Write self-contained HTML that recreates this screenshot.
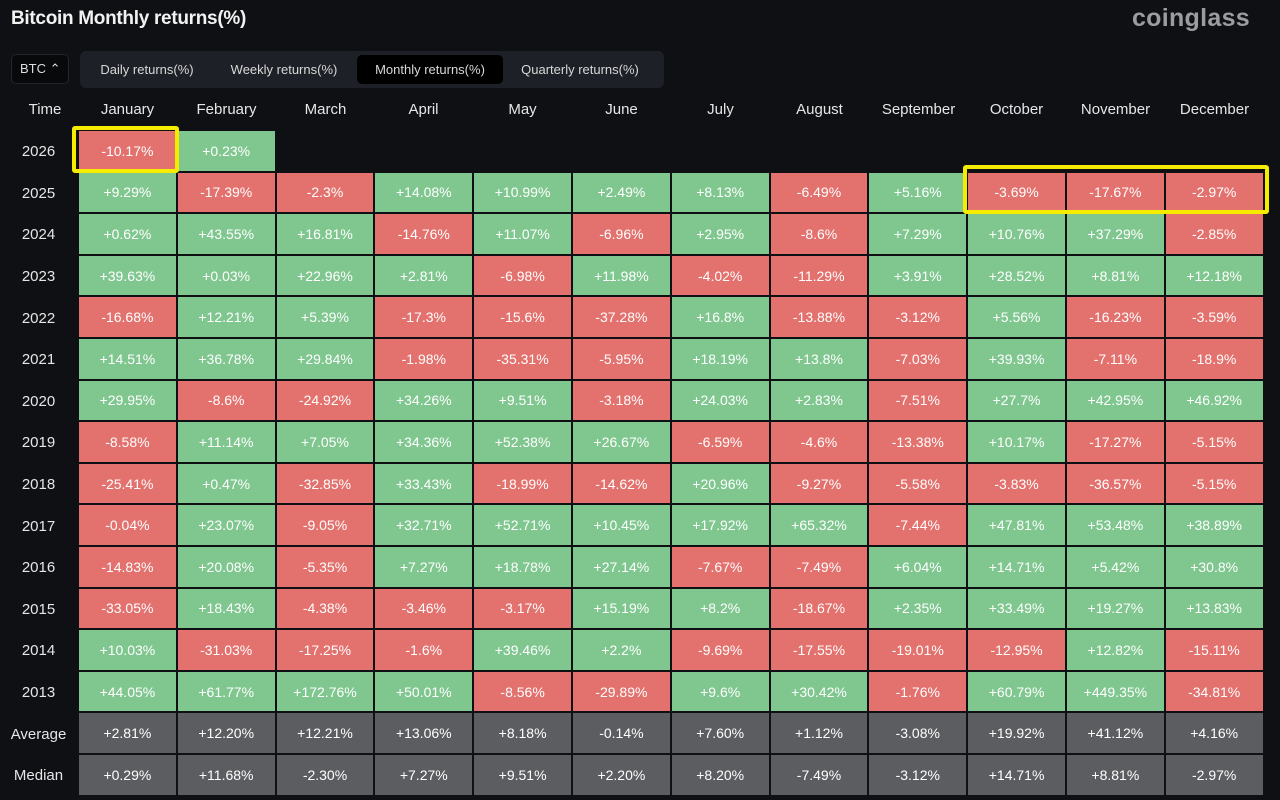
<!DOCTYPE html>
<html><head><meta charset="utf-8"><style>
*{margin:0;padding:0;box-sizing:border-box}
body{width:1280px;height:800px;background:#0e1014;font-family:"Liberation Sans",sans-serif;color:#e8e8e8;position:relative;overflow:hidden}
.t{position:absolute;left:11px;top:8px;font-size:19px;font-weight:bold;color:#f2f2f2;letter-spacing:-0.3px}
.logo{position:absolute;right:30px;top:4px;font-size:25px;font-weight:bold;color:#9a9ca0;letter-spacing:0.3px}
.btc{position:absolute;left:11px;top:54px;width:58px;height:30px;border:1px solid #23262c;border-radius:5px;background:#08090b;font-size:13px;line-height:28px;padding-left:8px;color:#ddd}
.tabs{position:absolute;left:80px;top:51px;width:584px;height:37px;background:#1d2026;border-radius:6px}
.tab{position:absolute;top:4px;height:29px;line-height:29px;font-size:13px;color:#d8d8d8;text-align:center}
.act{background:#000;border-radius:5px}
.hd{position:absolute;top:101px;font-size:15px;color:#e6e6e6;text-align:center;width:97px}
.grid{position:absolute;left:0;top:131px;display:grid;grid-template-columns:77px repeat(12,96.8px);grid-auto-rows:39.6px;gap:2px}
.grid div{display:flex;align-items:center;justify-content:center;font-size:14px;color:#fff}
.grid .y{color:#e6e6e6;font-size:15px;padding-top:2px}
.g{background:#7fc78f}.r{background:#e3716d}.a{background:#5c5d60}
.box{position:absolute;border:4px solid #f5ec00;border-radius:3px}
</style></head><body>
<div class="t">Bitcoin Monthly returns(%)</div>
<div class="logo">coinglass</div>
<div class="btc">BTC ⌃</div>
<div class="tabs">
<div class="tab" style="left:5px;width:124px">Daily returns(%)</div>
<div class="tab" style="left:136px;width:136px">Weekly returns(%)</div>
<div class="tab act" style="left:277px;width:146px">Monthly returns(%)</div>
<div class="tab" style="left:425px;width:150px">Quarterly returns(%)</div>
</div>
<div class="hd" style="left:5px;width:80px">Time</div>
<div class="hd" style="left:79px">January</div><div class="hd" style="left:178px">February</div><div class="hd" style="left:277px">March</div><div class="hd" style="left:375px">April</div><div class="hd" style="left:474px">May</div><div class="hd" style="left:573px">June</div><div class="hd" style="left:672px">July</div><div class="hd" style="left:771px">August</div><div class="hd" style="left:870px">September</div><div class="hd" style="left:968px">October</div><div class="hd" style="left:1067px">November</div><div class="hd" style="left:1166px">December</div>
<div class="grid">
<div class="y">2026</div><div class="r">-10.17%</div><div class="g">+0.23%</div><div></div><div></div><div></div><div></div><div></div><div></div><div></div><div></div><div></div><div></div>
<div class="y">2025</div><div class="g">+9.29%</div><div class="r">-17.39%</div><div class="r">-2.3%</div><div class="g">+14.08%</div><div class="g">+10.99%</div><div class="g">+2.49%</div><div class="g">+8.13%</div><div class="r">-6.49%</div><div class="g">+5.16%</div><div class="r">-3.69%</div><div class="r">-17.67%</div><div class="r">-2.97%</div>
<div class="y">2024</div><div class="g">+0.62%</div><div class="g">+43.55%</div><div class="g">+16.81%</div><div class="r">-14.76%</div><div class="g">+11.07%</div><div class="r">-6.96%</div><div class="g">+2.95%</div><div class="r">-8.6%</div><div class="g">+7.29%</div><div class="g">+10.76%</div><div class="g">+37.29%</div><div class="r">-2.85%</div>
<div class="y">2023</div><div class="g">+39.63%</div><div class="g">+0.03%</div><div class="g">+22.96%</div><div class="g">+2.81%</div><div class="r">-6.98%</div><div class="g">+11.98%</div><div class="r">-4.02%</div><div class="r">-11.29%</div><div class="g">+3.91%</div><div class="g">+28.52%</div><div class="g">+8.81%</div><div class="g">+12.18%</div>
<div class="y">2022</div><div class="r">-16.68%</div><div class="g">+12.21%</div><div class="g">+5.39%</div><div class="r">-17.3%</div><div class="r">-15.6%</div><div class="r">-37.28%</div><div class="g">+16.8%</div><div class="r">-13.88%</div><div class="r">-3.12%</div><div class="g">+5.56%</div><div class="r">-16.23%</div><div class="r">-3.59%</div>
<div class="y">2021</div><div class="g">+14.51%</div><div class="g">+36.78%</div><div class="g">+29.84%</div><div class="r">-1.98%</div><div class="r">-35.31%</div><div class="r">-5.95%</div><div class="g">+18.19%</div><div class="g">+13.8%</div><div class="r">-7.03%</div><div class="g">+39.93%</div><div class="r">-7.11%</div><div class="r">-18.9%</div>
<div class="y">2020</div><div class="g">+29.95%</div><div class="r">-8.6%</div><div class="r">-24.92%</div><div class="g">+34.26%</div><div class="g">+9.51%</div><div class="r">-3.18%</div><div class="g">+24.03%</div><div class="g">+2.83%</div><div class="r">-7.51%</div><div class="g">+27.7%</div><div class="g">+42.95%</div><div class="g">+46.92%</div>
<div class="y">2019</div><div class="r">-8.58%</div><div class="g">+11.14%</div><div class="g">+7.05%</div><div class="g">+34.36%</div><div class="g">+52.38%</div><div class="g">+26.67%</div><div class="r">-6.59%</div><div class="r">-4.6%</div><div class="r">-13.38%</div><div class="g">+10.17%</div><div class="r">-17.27%</div><div class="r">-5.15%</div>
<div class="y">2018</div><div class="r">-25.41%</div><div class="g">+0.47%</div><div class="r">-32.85%</div><div class="g">+33.43%</div><div class="r">-18.99%</div><div class="r">-14.62%</div><div class="g">+20.96%</div><div class="r">-9.27%</div><div class="r">-5.58%</div><div class="r">-3.83%</div><div class="r">-36.57%</div><div class="r">-5.15%</div>
<div class="y">2017</div><div class="r">-0.04%</div><div class="g">+23.07%</div><div class="r">-9.05%</div><div class="g">+32.71%</div><div class="g">+52.71%</div><div class="g">+10.45%</div><div class="g">+17.92%</div><div class="g">+65.32%</div><div class="r">-7.44%</div><div class="g">+47.81%</div><div class="g">+53.48%</div><div class="g">+38.89%</div>
<div class="y">2016</div><div class="r">-14.83%</div><div class="g">+20.08%</div><div class="r">-5.35%</div><div class="g">+7.27%</div><div class="g">+18.78%</div><div class="g">+27.14%</div><div class="r">-7.67%</div><div class="r">-7.49%</div><div class="g">+6.04%</div><div class="g">+14.71%</div><div class="g">+5.42%</div><div class="g">+30.8%</div>
<div class="y">2015</div><div class="r">-33.05%</div><div class="g">+18.43%</div><div class="r">-4.38%</div><div class="r">-3.46%</div><div class="r">-3.17%</div><div class="g">+15.19%</div><div class="g">+8.2%</div><div class="r">-18.67%</div><div class="g">+2.35%</div><div class="g">+33.49%</div><div class="g">+19.27%</div><div class="g">+13.83%</div>
<div class="y">2014</div><div class="g">+10.03%</div><div class="r">-31.03%</div><div class="r">-17.25%</div><div class="r">-1.6%</div><div class="g">+39.46%</div><div class="g">+2.2%</div><div class="r">-9.69%</div><div class="r">-17.55%</div><div class="r">-19.01%</div><div class="r">-12.95%</div><div class="g">+12.82%</div><div class="r">-15.11%</div>
<div class="y">2013</div><div class="g">+44.05%</div><div class="g">+61.77%</div><div class="g">+172.76%</div><div class="g">+50.01%</div><div class="r">-8.56%</div><div class="r">-29.89%</div><div class="g">+9.6%</div><div class="g">+30.42%</div><div class="r">-1.76%</div><div class="g">+60.79%</div><div class="g">+449.35%</div><div class="r">-34.81%</div>
<div class="y">Average</div><div class="a">+2.81%</div><div class="a">+12.20%</div><div class="a">+12.21%</div><div class="a">+13.06%</div><div class="a">+8.18%</div><div class="a">-0.14%</div><div class="a">+7.60%</div><div class="a">+1.12%</div><div class="a">-3.08%</div><div class="a">+19.92%</div><div class="a">+41.12%</div><div class="a">+4.16%</div>
<div class="y">Median</div><div class="a">+0.29%</div><div class="a">+11.68%</div><div class="a">-2.30%</div><div class="a">+7.27%</div><div class="a">+9.51%</div><div class="a">+2.20%</div><div class="a">+8.20%</div><div class="a">-7.49%</div><div class="a">-3.12%</div><div class="a">+14.71%</div><div class="a">+8.81%</div><div class="a">-2.97%</div>
</div>
<div class="box" style="left:72px;top:126px;width:107px;height:47px"></div>
<div class="box" style="left:963px;top:165px;width:306px;height:49px"></div>
</body></html>
